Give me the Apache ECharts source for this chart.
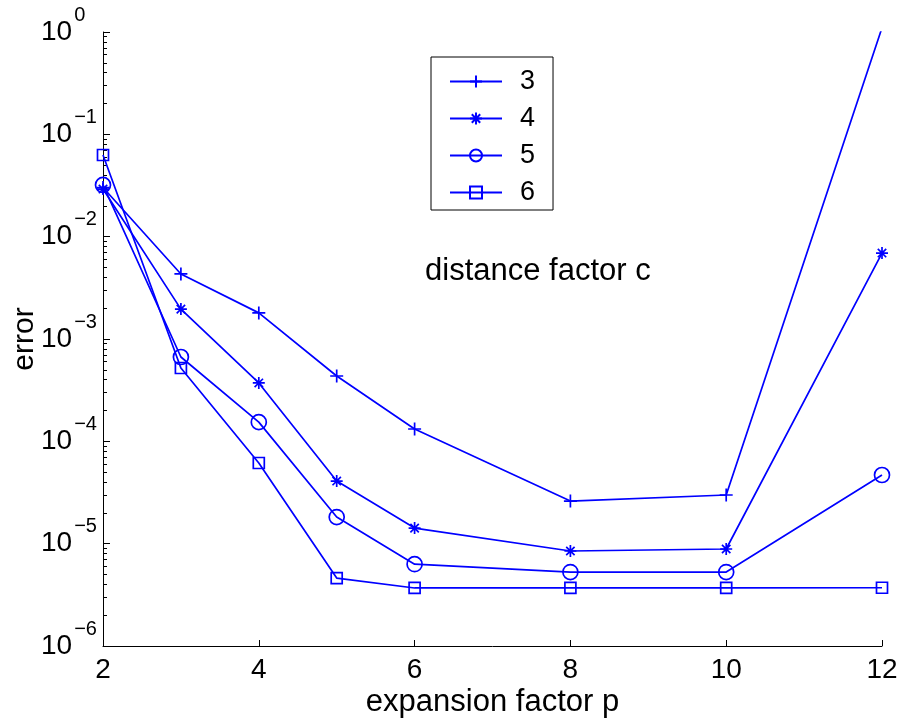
<!DOCTYPE html>
<html>
<head>
<meta charset="utf-8">
<script src="https://cdn.jsdelivr.net/npm/echarts@6/dist/echarts.min.js"></script>
<style>
  html, body { margin: 0; padding: 0; background: #fff; }
  #chart { width: 905px; height: 719px; }
</style>
</head>
<body>
<div id="chart"></div>
<script>
// expansion factor p
const pValues = [2, 3, 4, 5, 6, 8, 10, 12];
// error for distance factor c = 3, 4, 5, 6
const errC3 = [0.0302, 4.32e-3, 1.80e-3, 4.35e-4, 1.32e-4, 2.61e-5, 2.99e-5, 1.1];
const errC4 = [0.0292, 1.96e-3, 3.72e-4, 4.09e-5, 1.42e-5, 8.48e-6, 8.87e-6, 6.92e-3];
const errC5 = [0.0320, 6.67e-4, 1.54e-4, 1.82e-5, 6.3e-6, 5.28e-6, 5.28e-6, 4.69e-5];
const errC6 = [0.0628, 5.21e-4, 6.14e-5, 4.61e-6, 3.69e-6, 3.69e-6, 3.69e-6, 3.71e-6];
const seriesNames = ['3', '4', '5', '6'];
const xTicks = [2, 4, 6, 8, 10, 12];
// minor ticks 2..9 x 10^e, given as exponents for a linear helper axis
const yMinorTicks = [];
for (let e = -6; e < 0; e++) {
  for (let m = 2; m <= 9; m++) yMinorTicks.push(e + Math.log10(m));
}

const BLUE = '#0000ff';
const FONT = 'Liberation Sans';

// MATLAB-style markers, outline only
const markers = [
  'path://M0,-1L0,1M-1,0L1,0',
  'path://M0,-1L0,1M-1,0L1,0M-0.7,-0.7L0.7,0.7M-0.7,0.7L0.7,-0.7',
  'circle',
  'rect'
];
const markerSizes = [13, 12, 15, 11];

const allErr = [errC3, errC4, errC5, errC6];

const chart = echarts.init(document.getElementById('chart'));

const series = allErr.map((errs, i) => ({
  name: seriesNames[i],
  type: 'line',
  data: pValues.map((p, k) => [p, errs[k]]),
  symbol: markers[i],
  symbolSize: markerSizes[i],
  showAllSymbol: true,
  clip: true,
  lineStyle: { color: BLUE, width: 1.7 },
  itemStyle: { color: 'rgba(0,0,0,0)', borderColor: BLUE, borderWidth: 1.7 },
  emphasis: { disabled: true },
  animation: false
}));

const supMinus = n => (n < 0 ? '\u2212' + (-n) : '' + n);

chart.setOption({
  backgroundColor: '#fff',
  animation: false,
  grid: { left: 103, right: 23, top: 32, bottom: 73, containLabel: false, outerBoundsMode: 'none' },
  legend: {
    data: seriesNames,
    orient: 'vertical',
    left: 431,
    top: 57,
    padding: [11, 18, 4, 18],
    itemGap: 10,
    itemWidth: 52,
    itemHeight: 15,
    borderColor: '#000',
    borderWidth: 1,
    backgroundColor: '#fff',
    textStyle: { fontSize: 27, fontFamily: FONT, color: '#000', lineHeight: 26.5, padding: [0, 0, 0, 13] },
    selectedMode: false
  },
  graphic: [{
    type: 'text',
    left: 425,
    top: 256,
    style: { text: 'distance factor c', fontSize: 31, fontFamily: FONT, fill: '#000' }
  }],
  xAxis: {
    type: 'value',
    min: 2,
    max: 12,
    interval: 2,
    name: 'expansion factor p',
    nameLocation: 'middle',
    nameGap: 41,
    nameMoveOverlap: false,
    nameTextStyle: { fontSize: 31, fontFamily: FONT, color: '#000' },
    axisLine: { onZero: false, lineStyle: { color: '#000', width: 1 } },
    axisTick: { inside: true, length: 6, lineStyle: { color: '#000' } },
    axisLabel: {
      fontSize: 28, fontFamily: FONT, color: '#000', margin: 10,
      formatter: v => (xTicks.indexOf(v) >= 0 ? '' + v : '')
    },
    splitLine: { show: false }
  },
  yAxis: [{
    type: 'log',
    min: 1e-6,
    max: 1,
    logBase: 10,
    name: 'error',
    nameLocation: 'middle',
    nameGap: 63,
    nameMoveOverlap: false,
    nameTextStyle: { fontSize: 30, fontFamily: FONT, color: '#000' },
    axisLine: { lineStyle: { color: '#000', width: 1 } },
    axisTick: { inside: true, length: 7, lineStyle: { color: '#000' } },
    axisLabel: {
      margin: 62,
      align: 'left',
      formatter: v => '{b|10}{e|' + supMinus(Math.round(Math.log10(v))) + '}',
      rich: {
        b: { fontSize: 28, fontFamily: FONT, color: '#000', verticalAlign: 'middle' },
        e: { fontSize: 20, fontFamily: FONT, color: '#000', verticalAlign: 'middle', padding: [0, 0, 34, 2] }
      }
    },
    splitLine: { show: false }
  }, {
    type: 'value',
    min: -6,
    max: 0,
    position: 'left',
    axisLine: { show: false, onZero: false },
    axisTick: { show: true, inside: true, length: 4, lineStyle: { color: '#000' }, customValues: yMinorTicks },
    axisLabel: { show: false },
    splitLine: { show: false }
  }],
  series: series
});
</script>
</body>
</html>
